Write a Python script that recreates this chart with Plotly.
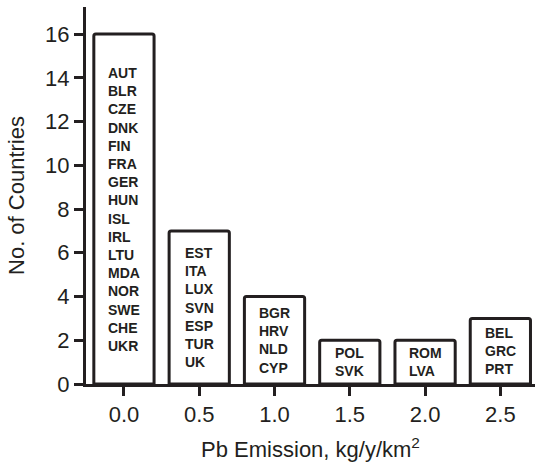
import plotly.graph_objects as go

emission = [0.0, 0.5, 1.0, 1.5, 2.0, 2.5]
tick_labels = ["0.0", "0.5", "1.0", "1.5", "2.0", "2.5"]
counts = [16, 7, 4, 2, 2, 3]
countries = [
    ["AUT", "BLR", "CZE", "DNK", "FIN", "FRA", "GER", "HUN", "ISL", "IRL",
     "LTU", "MDA", "NOR", "SWE", "CHE", "UKR"],
    ["EST", "ITA", "LUX", "SVN", "ESP", "TUR", "UK"],
    ["BGR", "HRV", "NLD", "CYP"],
    ["POL", "SVK"],
    ["ROM", "LVA"],
    ["BEL", "GRC", "PRT"],
]

ink = "#231f20"
font = "Liberation Sans, Arial, sans-serif"

fig = go.Figure()
fig.add_trace(go.Bar(
    x=emission, y=counts, width=0.4,
    marker=dict(color="white", line=dict(color=ink, width=3), cornerradius=2),
    hoverinfo="skip",
))

for x, c, names in zip(emission, counts, countries):
    fig.add_annotation(
        x=x, y=c / 2, xref="x", yref="y",
        text="<b>" + "<br>".join(names) + "</b>",
        showarrow=False, align="left", xanchor="center", yanchor="middle",
        font=dict(family=font, size=14, color=ink),
    )

fig.update_layout(
    width=535, height=466,
    margin=dict(l=86, r=0, t=7, b=82),
    paper_bgcolor="white", plot_bgcolor="white",
    showlegend=False,
    font=dict(family=font, color=ink, size=22),
    xaxis=dict(
        range=[-0.252, 2.73],
        tickmode="array", tickvals=emission, ticktext=tick_labels,
        showline=True, linecolor=ink, linewidth=3,
        ticks="outside", ticklen=9, tickwidth=3, tickcolor=ink,
        showgrid=False, zeroline=False, automargin=False,
        tickfont=dict(size=22),
        title=dict(text="Pb Emission, kg/y/km<sup>2</sup>", font=dict(size=22), standoff=16),
    ),
    yaxis=dict(
        range=[0, 17.24],
        tickmode="array", tickvals=list(range(0, 17, 2)),
        showline=True, linecolor=ink, linewidth=3,
        ticks="outside", ticklen=9, tickwidth=3, tickcolor=ink,
        showgrid=False, zeroline=False, automargin=False,
        tickfont=dict(size=22),
        title=dict(text="No. of Countries", font=dict(size=22), standoff=15),
    ),
)

fig.write_html(
    "out.html",
    config={"displayModeBar": False, "staticPlot": True},
    post_script="document.body.style.margin='0';",
)
